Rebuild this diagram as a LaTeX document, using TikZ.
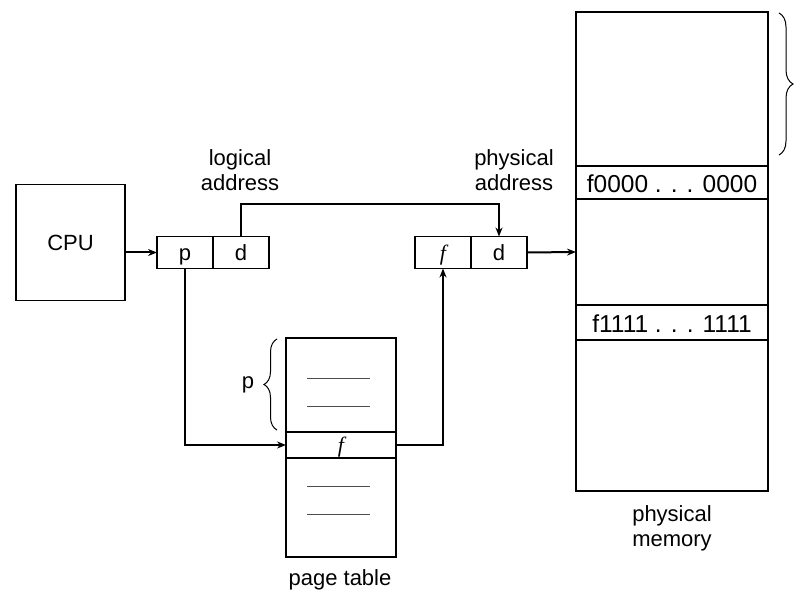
\documentclass[tikz,border=0pt]{standalone}
\usepackage{fontspec}
\setmainfont{Liberation Sans}
\newfontfamily\serifit{Liberation Serif}
\usetikzlibrary{decorations.pathreplacing,arrows.meta}
\begin{document}
\begin{tikzpicture}[x=1pt,y=-1pt,
  every node/.style={font=\fontsize{22}{25}\selectfont, inner sep=0pt, outer sep=0pt},
  cell/.style={draw, line width=1.3pt, minimum height=32pt, text height=16pt, text depth=0pt, anchor=center},
  region/.style={draw, line width=1.3pt, minimum width=110pt, text height=15pt, text depth=0pt},
  mreg/.style={draw, line width=1.6pt, minimum width=192pt},
  mtext/.style={font=\fontsize{24.5}{28}\selectfont, text height=20pt, text depth=0pt},
  conn/.style={line width=2pt, -{Stealth[length=9pt,width=7pt]}},
  row/.style={line width=0.9pt, gray!60!black},
  label/.style={align=center}]
\useasboundingbox (0,0) rectangle (800,593);
% CPU
\node[draw, line width=1.3pt, minimum width=109pt, minimum height=116pt] (cpu) at (70.5,242.5) {CPU};
% logical address
\node[cell, minimum width=56pt] (lp) at (185,252.5) {p};
\node[cell, minimum width=56pt] (ld) at (241,252.5) {d};
\node[label] (llab) at (240,170) {logical\\address};
% physical address
\node[cell, minimum width=56pt] (pf) at (443,252.5) {\serifit\itshape f};
\node[cell, minimum width=56pt] (pd) at (499,252.5) {d};
\node[label] (plab) at (514,170) {physical\\address};
% page table
\node[region, minimum height=94pt] (ptup) at (341,385) {};
\node[region, minimum height=26pt] (ptf) at (341,445) {\serifit\itshape f};
\node[region, minimum height=99pt] (ptlo) at (341,507.5) {};
\draw[row] (307,378) -- (370,378);
\draw[row] (307,406) -- (370,406);
\draw[row] (307,486) -- (370,486);
\draw[row] (307,514) -- (370,514);
\draw[decorate, decoration={brace, amplitude=13pt}, line width=1pt] (277,430) -- (277,339);
\node (pbr) at (248,385) {p};
\node (ptlab) at (340,580) {page table};
% physical memory
\node[mreg, minimum height=154pt] (m0) at (672,89) {};
\node[mreg, mtext, minimum height=33pt] (mf0) at (672,182.5) {f0000 . . . 0000};
\node[mreg, minimum height=106pt] (m1) at (672,252) {};
\node[mreg, mtext, minimum height=35pt] (mf1) at (672,322.5) {f1111 . . . 1111};
\node[mreg, minimum height=151pt] (m2) at (672,415.5) {};
\node[label] (mlab) at (672,528) {physical\\memory};
\draw[decorate, decoration={brace, amplitude=14pt}, line width=1pt] (779,13) -- (779,155);
% connectors
\draw[conn] (cpu.east |- lp.west) -- (lp.west);
\draw[conn] (ld.north) -- ++(0,-32) -| (pd.north);
\draw[conn] (lp.south) |- (ptf.west);
\draw[conn] (ptf.east) -| (pf.south);
\draw[conn] (pd.east) -- (m1.west);
\end{tikzpicture}
\end{document}
